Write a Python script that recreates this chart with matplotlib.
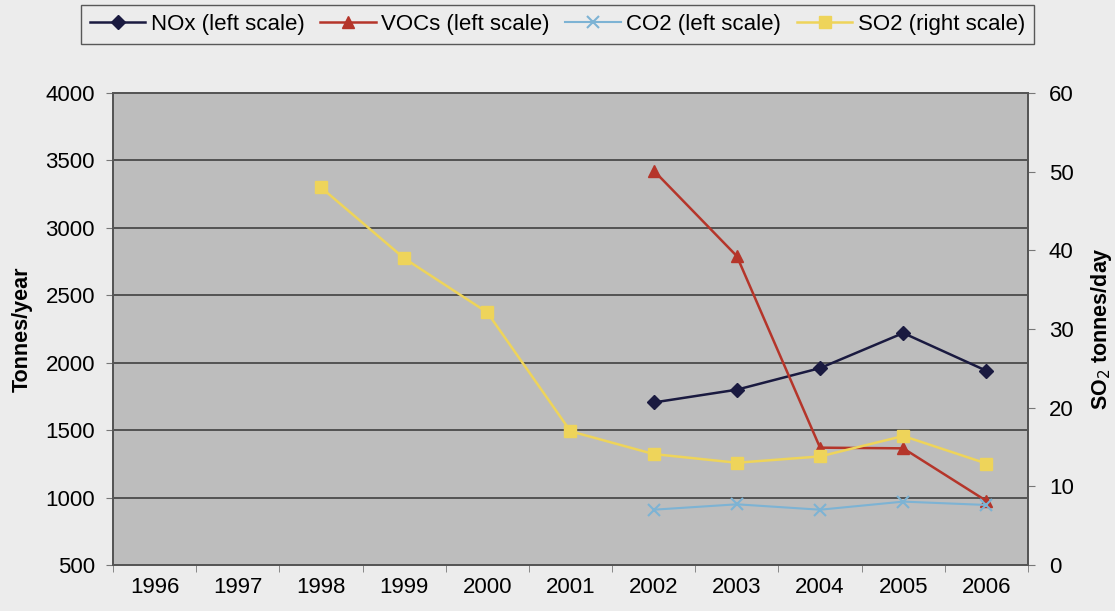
import matplotlib
matplotlib.use('Agg')
import matplotlib.pyplot as plt
import numpy as np

plt.rcParams['font.family'] = ['Liberation Sans', 'DejaVu Sans']

# ------------ data ----------------------------------
years = ['1996', '1997', '1998', '1999', '2000', '2001',
         '2002', '2003', '2004', '2005', '2006']
nox = [None, None, None, None, None, None, 1705, 1800, 1960, 2220, 1940]
vocs = [None, None, None, None, None, None, 3425, 2790, 1370, 1365, 975]
co2 = [None, None, None, None, None, None, 910, 950, 910, 970, 945]
so2 = [None, None, 48.0, 39.0, 32.1, 17.0, 14.1, 13.0, 13.8, 16.4, 12.9]

def as_arr(v):
    return np.array([np.nan if x is None else x for x in v], dtype=float)

x = np.arange(len(years))

fig = plt.figure(figsize=(11.15, 6.11), dpi=100)
fig.patch.set_facecolor('#ececec')
ax = fig.add_axes([0.1013, 0.0753, 0.8207, 0.7725])
ax.set_facecolor('#bdbdbd')
ax2 = ax.twinx()

l1, = ax.plot(x, as_arr(nox), color='#1a1a40', marker='D', markersize=7, lw=1.8, label='NOx (left scale)')
l2, = ax.plot(x, as_arr(vocs), color='#b5352a', marker='^', markersize=9, lw=1.8, label='VOCs (left scale)')
l3, = ax.plot(x, as_arr(co2), color='#7db3d4', marker='x', markersize=8, mew=1.5, lw=1.5, label='CO2 (left scale)')
l4, = ax2.plot(x, as_arr(so2), color='#eed45a', marker='s', markersize=8, lw=1.8, label='SO2 (right scale)')

ax.set_xlim(-0.5, len(years) - 0.5)
ax.set_ylim(500, 4000)
ax.set_yticks(np.arange(500, 4001, 500))
ax2.set_ylim(0, 60)
ax2.set_yticks(np.arange(0, 61, 10))

# gridlines on left scale
ax.yaxis.grid(True, color='#4a4a4a', lw=1.3)
ax.set_axisbelow(True)

# category ticks between years, labels centred
ax.set_xticks(x)
ax.set_xticklabels(years)
ax.set_xticks(np.arange(-0.5, len(years), 1), minor=True)
ax.tick_params(axis='x', which='major', length=0, labelsize=16, pad=9)
ax.tick_params(axis='x', which='minor', length=5, color='#777777')
ax.tick_params(axis='y', length=5, color='#777777', labelsize=16, pad=8)
ax2.tick_params(axis='y', length=5, color='#777777', labelsize=16, pad=10)

for a in (ax, ax2):
    for s in a.spines.values():
        s.set_color('#555555')
        s.set_linewidth(1.3)

ax.set_ylabel('Tonnes/year', fontsize=15.5, fontweight='bold', labelpad=9)
ax2.set_ylabel('SO$_2$ tonnes/day', fontsize=15.5, fontweight='bold', labelpad=11)

leg = fig.legend(handles=[l1, l2, l3, l4], loc='upper center',
                 bbox_to_anchor=(0.5, 0.992), ncol=4, fontsize=16,
                 frameon=True, fancybox=False, edgecolor='#333333',
                 facecolor='#ececec', handlelength=2.5, handletextpad=0.25,
                 columnspacing=0.7, borderpad=0.4, borderaxespad=0)
leg.get_frame().set_linewidth(1.0)

fig.savefig('out.png', dpi=100, facecolor=fig.get_facecolor())
